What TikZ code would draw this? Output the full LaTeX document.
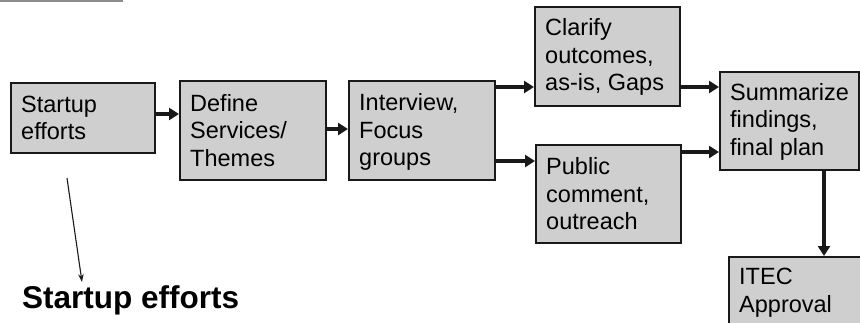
\documentclass[tikz,border=0pt]{standalone}
\usepackage{fontspec}
\setmainfont{Liberation Sans}
\usetikzlibrary{arrows.meta}

\tikzset{
  stepbox/.style={draw=black!90, line width=1.8pt, fill=black!19,
    rectangle, inner sep=0pt, anchor=north west},
  boxtext/.style={anchor=west, inner sep=0pt, align=left, text=black,
    font=\fontsize{23.5}{27.5}\selectfont},
  flow/.style={draw=black!90, line width=3.2pt,
    -{Triangle[length=10pt,width=12pt]}},
  pointer/.style={draw=black!90, line width=1.1pt,
    -{Stealth[length=8pt,width=5.5pt]}},
}

\begin{document}
\begin{tikzpicture}[x=1pt, y=-1pt]
\useasboundingbox (0,0) rectangle (860,322);
\clip (0,0) rectangle (860,322);
\fill[white] (0,0) rectangle (860,322);

% thin rule along the top edge
\fill[black!45] (0,0) rectangle (123,1.8);

% process boxes
\node[stepbox, minimum width=144pt, minimum height=70pt] (start)  at (10,82)  {};
\node[stepbox, minimum width=146pt, minimum height=99pt] (define) at (179,80) {};
\node[stepbox, minimum width=146pt, minimum height=99pt] (intv)   at (348,80) {};
\node[stepbox, minimum width=145pt, minimum height=99pt] (clar)   at (534,6)  {};
\node[stepbox, minimum width=145pt, minimum height=98pt] (pub)    at (535,144) {};
\node[stepbox, minimum width=139pt, minimum height=98pt] (summ)   at (719,71) {};
\node[stepbox, minimum width=145pt, minimum height=99pt] (itec)   at (728,256) {};

% box labels
\node[boxtext] (start-t)  at ([xshift=11pt]start.west)  {Startup\\efforts};
\node[boxtext] (define-t) at ([xshift=11pt]define.west) {Define\\Services/\\Themes};
\node[boxtext] (intv-t)   at ([xshift=11pt,yshift=-2pt]intv.west) {Interview,\\Focus\\groups};
\node[boxtext] (clar-t)   at ([xshift=11pt,yshift=-1pt]clar.west) {Clarify\\outcomes,\\as-is, Gaps};
\node[boxtext] (pub-t)    at ([xshift=11pt]pub.west)    {Public\\comment,\\outreach};
\node[boxtext] (summ-t)   at ([xshift=11pt,yshift=-1pt]summ.west) {Summarize\\findings,\\final plan};
\node[boxtext, anchor=north west] (itec-t) at ([xshift=11pt,yshift=-12pt]itec.north west) {ITEC\\Approval};

% heights of the horizontal connectors
\coordinate (r1) at (0,114);
\coordinate (r2) at (0,129);
\coordinate (r3) at (0,87);
\coordinate (r4) at (0,161);
\coordinate (r5) at (0,152);
\coordinate (c1) at (824,0);

% connectors
\draw[flow] (start.east |- r1) -- (define.west |- r1);
\draw[flow] (define.east |- r2) -- (intv.west |- r2);
\draw[flow] (intv.east |- r3) -- (clar.west |- r3);
\draw[flow] (intv.east |- r4) -- (pub.west |- r4);
\draw[flow] (clar.east |- r3) -- (summ.west |- r3);
\draw[flow] (pub.east |- r5) -- (summ.west |- r5);
\draw[flow] (summ.south -| c1) -- (itec.north -| c1);

% caption with its pointer
\node[anchor=base west, inner sep=0pt, font=\fontsize{31.5}{36}\selectfont\bfseries, text=black]
  (caption) at (22,308) {Startup efforts};
\coordinate (ptr-from) at (67,178);
\coordinate (ptr-to) at (82,282);
\draw[pointer] (ptr-from) -- (ptr-to);
\end{tikzpicture}
\end{document}
